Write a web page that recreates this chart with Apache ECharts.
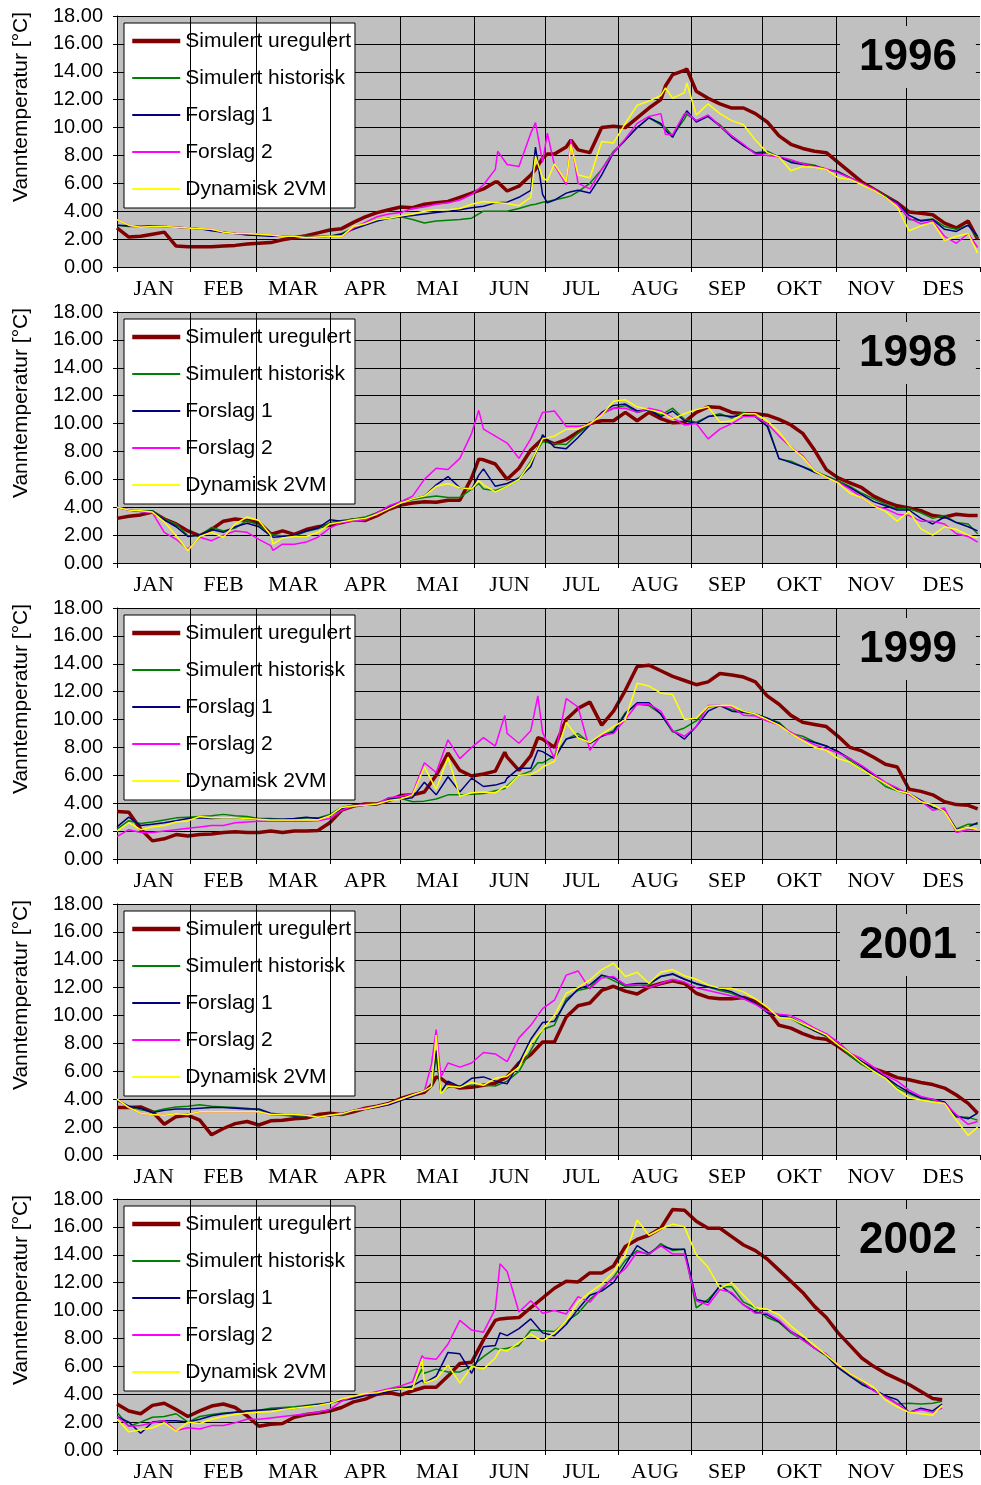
<!DOCTYPE html>
<html><head><meta charset="utf-8">
<script src="https://cdn.jsdelivr.net/npm/echarts@6/dist/echarts.min.js"></script>
<style>html,body{margin:0;padding:0;background:#fff}#c{width:981px;height:1485px}</style>
</head><body><div id="c"></div>
<script>
const SERIES_NAMES = ['Simulert uregulert','Simulert historisk','Forslag 1','Forslag 2','Dynamisk 2VM'];
const MONTHS = ['JAN','FEB','MAR','APR','MAI','JUN','JUL','AUG','SEP','OKT','NOV','DES'];
const MONTH_STARTS = [0,31,59,90,120,151,181,212,243,273,304,334,365];
const MONTH_MIDS = [15.5,45,74.5,105,135.5,166,196.5,227.5,258,288.5,319,349.5];
const Y_AXIS_NAME = 'Vanntemperatur [°C]';

// ---- 1996 ----
const DAYS_1996 = [0,5,10,15,20,25,30,35,40,45,50,55,60,65,70,75,80,85,90,95,100,105,110,115,120,125,130,135,140,145,150,155,160,161,165,170,175,177,180,182,185,190,192,195,200,205,210,215,220,225,230,232,235,240,241,245,250,255,260,265,270,275,280,285,290,295,300,305,310,315,320,325,330,335,340,345,350,355,360,364];
const UREG_1996 = [2.8,2.15,2.2,2.35,2.5,1.5,1.45,1.45,1.45,1.5,1.55,1.65,1.7,1.75,1.95,2.1,2.25,2.45,2.65,2.75,3.2,3.6,3.9,4.1,4.3,4.25,4.5,4.6,4.7,5.0,5.3,5.6,6.1,6.1,5.45,5.8,6.6,7.0,7.8,8.1,8.1,8.6,9.1,8.4,8.2,10.0,10.1,10.0,10.7,11.4,12.0,13.0,13.8,14.1,14.2,12.6,12.1,11.7,11.4,11.4,11.0,10.4,9.4,8.8,8.5,8.3,8.2,7.5,6.8,6.1,5.6,5.1,4.6,3.95,3.85,3.75,3.15,2.8,3.3,2.0];
const HIST_1996 = [3.0,2.9,2.9,2.9,2.9,2.85,2.8,2.75,2.65,2.5,2.4,2.35,2.3,2.25,2.25,2.2,2.2,2.2,2.2,2.4,2.8,3.1,3.4,3.5,3.6,3.4,3.15,3.3,3.35,3.4,3.5,4.0,4.0,4.0,4.0,4.2,4.45,4.5,4.65,4.7,4.8,5.0,5.1,5.4,6.0,7.0,8.3,9.1,10.0,10.7,10.2,10.0,9.4,10.6,10.95,10.5,10.8,10.2,9.4,8.7,8.2,8.3,7.9,7.6,7.45,7.3,7.0,6.85,6.4,6.0,5.6,5.1,4.6,3.4,3.35,3.45,2.9,2.7,3.0,2.1];
const F1_1996 = [3.0,2.95,2.9,2.95,2.9,2.85,2.8,2.75,2.6,2.5,2.4,2.3,2.25,2.2,2.2,2.15,2.1,2.15,2.2,2.35,2.7,3.0,3.3,3.5,3.6,3.7,3.8,3.9,4.0,4.1,4.25,4.35,4.6,4.6,4.65,5.0,5.5,8.6,5.2,4.6,4.8,5.3,5.4,5.5,5.3,6.6,8.2,9.1,10.0,10.7,10.3,9.8,9.3,10.9,11.2,10.4,10.8,10.1,9.3,8.7,8.15,8.2,7.9,7.5,7.35,7.25,7.0,6.8,6.4,6.0,5.55,5.05,4.6,3.7,3.3,3.4,2.7,2.55,3.0,2.2];
const F2_1996 = [3.4,3.0,2.85,2.9,2.9,2.85,2.8,2.75,2.7,2.5,2.4,2.4,2.35,2.3,2.2,2.2,2.1,2.15,2.2,2.2,2.8,3.2,3.6,3.8,3.9,4.2,4.3,4.5,4.6,4.8,5.2,5.9,7.0,8.3,7.35,7.2,9.6,10.35,7.5,9.6,7.3,5.9,9.15,6.0,5.6,7.0,8.2,9.2,10.3,10.8,11.0,9.5,9.5,11.0,11.05,10.5,10.9,10.1,9.4,8.8,8.1,8.0,7.9,7.7,7.4,7.2,7.05,6.75,6.4,6.0,5.6,5.0,4.5,3.5,3.1,3.3,2.2,1.7,2.4,1.4];
const DYN_1996 = [3.4,3.0,2.85,2.9,2.9,2.85,2.8,2.75,2.7,2.5,2.4,2.4,2.35,2.3,2.2,2.2,2.1,2.15,2.2,2.2,2.9,3.1,3.4,3.5,3.65,3.8,4.0,4.1,4.1,4.2,4.5,4.7,4.6,4.6,4.55,4.4,5.0,7.95,6.4,6.2,7.4,6.1,8.8,6.6,6.4,9.0,8.9,10.3,11.6,11.9,12.3,12.85,12.1,12.5,13.2,10.9,11.7,11.0,10.5,10.2,9.1,8.2,7.9,6.9,7.2,7.15,7.0,6.4,6.3,5.9,5.5,5.0,4.3,2.6,2.95,3.2,1.9,2.2,2.4,1.0];

// ---- 1998 ----
const DAYS_1998 = [0,5,10,15,20,25,30,35,40,45,50,55,60,65,66,70,75,80,85,90,95,100,105,110,115,120,125,130,135,140,145,150,153,155,160,165,170,175,180,185,190,195,200,205,210,215,220,225,230,235,240,245,250,255,260,265,270,275,280,285,290,295,300,305,310,315,320,325,330,335,340,345,350,355,360,364];
const UREG_1998 = [3.2,3.35,3.45,3.65,3.15,2.8,2.3,1.95,2.4,3.0,3.15,3.05,2.9,2.1,2.1,2.3,2.05,2.4,2.6,2.7,2.9,3.1,3.05,3.4,3.85,4.15,4.3,4.4,4.35,4.5,4.5,6.1,7.45,7.4,7.1,6.0,6.8,8.1,8.9,8.55,8.85,9.4,10.0,10.2,10.2,10.8,10.2,10.8,10.35,10.05,10.1,10.8,11.2,11.15,10.8,10.7,10.7,10.6,10.3,9.9,9.3,8.1,6.7,6.1,5.75,5.4,4.8,4.4,4.1,3.95,3.75,3.4,3.3,3.5,3.4,3.4];
const HIST_1998 = [4.0,3.8,3.75,3.75,3.15,2.8,1.95,1.95,2.55,2.3,2.5,3.05,2.7,2.1,2.0,1.95,1.95,2.25,2.45,2.9,3.05,3.15,3.3,3.6,3.95,4.35,4.55,4.7,4.8,4.7,4.7,5.3,5.7,5.3,5.2,5.5,6.0,7.3,8.7,8.55,8.5,9.3,9.9,10.7,11.1,11.3,10.8,11.0,10.6,11.1,10.3,10.1,10.5,10.7,10.4,10.8,10.5,10.0,7.45,7.3,6.9,6.6,6.25,5.9,5.5,5.0,4.6,4.2,3.9,3.9,3.6,3.2,3.4,2.9,2.8,2.1];
const F1_1998 = [4.0,3.8,3.7,3.7,3.1,2.6,1.9,2.0,2.4,2.2,2.6,2.85,2.6,1.95,1.85,1.9,2.0,2.3,2.5,3.1,3.0,3.05,3.15,3.6,4.0,4.4,4.6,4.8,5.6,6.2,5.4,5.3,6.3,6.75,5.5,5.7,6.1,6.9,9.2,8.3,8.2,9.0,9.9,10.8,11.3,11.4,10.9,11.0,10.5,10.9,10.2,10.0,10.5,10.6,10.5,10.6,10.5,9.8,7.5,7.2,6.9,6.5,6.2,5.8,5.4,4.9,4.4,4.1,3.8,3.8,3.2,2.8,3.3,2.9,2.6,2.3];
const F2_1998 = [4.0,3.8,3.7,3.6,2.2,1.7,1.0,1.85,1.6,2.0,2.3,2.2,1.7,1.25,0.9,1.35,1.35,1.5,1.85,2.5,2.9,3.0,3.1,3.6,4.1,4.4,4.8,6.0,6.8,6.7,7.5,9.3,10.95,9.6,9.1,8.6,7.5,8.9,10.8,10.9,9.8,9.8,9.9,10.7,11.1,11.1,10.8,11.1,10.9,10.4,9.9,10.0,8.9,9.6,10.0,10.5,10.5,10.0,9.1,8.3,7.7,6.6,6.15,5.8,5.3,4.7,4.1,3.9,3.5,3.4,3.0,3.0,2.8,2.1,1.9,1.5];
const DYN_1998 = [4.0,3.8,3.75,3.65,2.95,1.95,0.9,1.9,2.2,1.85,2.8,3.3,3.05,2.0,1.35,1.8,1.9,1.9,2.2,2.8,2.95,3.1,3.2,3.5,3.9,4.3,4.6,4.8,5.5,5.7,5.4,5.3,5.9,5.6,5.1,5.5,6.0,7.2,8.9,9.1,9.6,9.6,10.0,10.6,11.6,11.7,11.2,11.0,10.8,10.35,10.7,11.0,11.2,10.1,10.2,10.7,10.7,10.2,9.4,8.3,7.6,6.6,6.15,5.75,5.0,4.7,4.1,3.7,3.0,3.7,2.45,2.0,2.6,2.4,2.0,1.8];

// ---- 1999 ----
const DAYS_1999 = [0,5,10,15,20,25,30,35,40,45,50,55,60,65,70,75,80,85,90,95,100,105,110,115,120,125,130,135,140,145,150,155,160,164,165,170,175,178,180,185,190,195,200,205,210,215,220,225,230,235,240,245,250,255,260,265,270,275,280,285,290,295,300,305,310,315,320,325,330,335,340,345,350,355,360,364];
const UREG_1999 = [3.4,3.35,2.15,1.3,1.45,1.75,1.65,1.75,1.8,1.9,1.95,1.9,1.9,2.0,1.9,2.0,2.0,2.05,2.6,3.5,3.8,3.95,3.95,4.2,4.55,4.6,4.8,6.0,7.6,6.35,5.95,6.1,6.3,7.65,7.3,6.35,7.4,8.7,8.6,8.0,10.0,10.8,11.25,9.6,10.6,12.1,13.8,13.9,13.5,13.1,12.8,12.5,12.7,13.3,13.2,13.05,12.7,11.7,11.1,10.3,9.8,9.65,9.5,8.8,8.0,7.75,7.3,6.8,6.6,5.0,4.85,4.6,4.1,3.9,3.85,3.6];
const HIST_1999 = [2.15,2.75,2.55,2.65,2.8,2.95,3.0,3.05,3.1,3.2,3.1,3.05,2.9,2.9,2.85,2.85,2.95,2.95,3.2,3.7,3.85,3.85,3.95,4.4,4.35,4.1,4.15,4.3,4.6,4.6,4.65,4.7,4.9,5.05,5.25,6.0,6.3,6.9,6.9,7.4,8.6,9.0,8.3,8.85,9.2,10.5,11.1,11.0,10.4,9.1,9.4,9.9,10.9,11.0,10.7,10.6,10.4,10.1,9.8,9.0,8.8,8.4,8.1,7.7,7.05,6.4,5.9,5.2,4.9,4.65,4.1,3.7,3.5,2.15,2.5,2.5];
const F1_1999 = [2.3,3.0,2.4,2.5,2.6,2.75,2.9,2.95,2.9,2.95,2.95,2.9,2.85,2.85,2.85,2.9,3.0,2.9,3.1,3.6,3.8,3.85,3.9,4.3,4.3,4.4,5.5,4.6,5.9,4.8,5.8,5.2,5.3,5.5,5.8,6.5,6.5,7.8,7.7,7.2,8.6,8.8,8.3,8.8,9.1,10.4,11.2,11.2,10.4,9.2,8.6,9.5,10.6,11.0,10.6,10.5,10.4,10.1,9.7,9.0,8.6,8.35,8.1,7.7,7.2,6.6,6.0,5.4,5.0,4.7,4.2,3.7,3.45,2.1,2.3,2.6];
const F2_1999 = [1.6,2.1,1.9,1.9,2.0,2.1,2.2,2.3,2.4,2.4,2.6,2.65,2.7,2.7,2.7,2.7,2.7,2.75,2.9,3.5,3.8,3.9,3.95,4.4,4.5,4.7,6.9,6.2,8.55,7.2,8.0,8.7,8.1,10.3,9.0,8.3,9.2,11.7,9.1,7.2,11.5,10.9,7.8,8.9,9.0,10.0,11.1,11.1,10.6,9.2,8.8,9.5,11.0,11.0,10.9,10.3,10.25,9.9,9.6,9.1,8.6,8.2,7.9,7.6,7.2,6.7,6.1,5.5,5.1,4.6,4.15,3.5,3.65,1.9,2.1,2.1];
const DYN_1999 = [2.0,2.6,2.1,2.3,2.4,2.65,2.75,3.05,2.95,2.95,2.95,2.9,2.85,2.8,2.8,2.8,2.8,2.8,3.1,3.7,3.8,3.85,3.95,4.2,4.3,4.6,6.6,5.0,7.3,4.5,4.75,4.8,4.75,5.2,5.15,6.0,6.05,6.3,6.6,7.0,9.8,8.7,8.35,8.95,9.5,10.0,12.6,12.4,11.9,11.8,10.0,10.1,10.95,11.0,11.0,10.6,10.4,10.0,9.6,9.0,8.5,8.0,7.8,7.2,6.95,6.4,5.9,5.4,4.9,4.7,4.1,3.9,3.4,2.05,2.3,2.1];

// ---- 2001 ----
const DAYS_2001 = [0,5,10,15,20,25,30,35,40,45,50,55,60,65,70,75,80,85,90,95,100,105,110,115,120,125,130,133,135,137,140,145,150,155,160,165,170,175,180,185,190,195,200,205,210,215,220,225,230,235,240,245,250,255,260,265,270,275,280,285,290,295,300,305,310,315,320,325,330,335,340,345,350,355,360,364];
const UREG_2001 = [3.4,3.4,3.45,3.1,2.2,2.75,2.85,2.5,1.45,1.9,2.25,2.4,2.15,2.45,2.5,2.6,2.65,2.9,3.0,2.9,3.1,3.35,3.5,3.7,4.05,4.3,4.5,5.0,5.6,5.5,5.1,4.8,4.85,5.0,5.15,5.6,6.6,7.2,8.1,8.1,9.9,10.7,10.9,11.8,12.1,11.75,11.55,12.05,12.3,12.5,12.3,11.6,11.3,11.2,11.2,11.3,11.0,10.4,9.3,9.1,8.7,8.4,8.3,7.8,7.2,6.6,6.2,5.9,5.55,5.4,5.2,5.05,4.8,4.3,3.7,3.0];
const HIST_2001 = [3.95,3.5,3.25,3.1,3.3,3.45,3.5,3.6,3.5,3.45,3.4,3.35,3.25,2.9,2.85,2.8,2.8,2.8,2.85,2.85,3.2,3.35,3.5,3.7,4.0,4.3,4.6,4.9,7.0,4.5,4.85,4.95,5.0,5.0,4.95,5.3,6.0,7.5,9.0,9.3,11.2,11.8,12.0,12.9,12.5,12.1,12.15,12.2,12.8,12.95,12.6,12.25,12.05,11.8,11.6,11.2,10.9,10.3,10.0,9.8,9.3,8.9,8.5,8.0,7.1,6.5,6.0,5.6,4.8,4.4,4.05,3.9,3.75,2.7,2.7,2.5];
const F1_2001 = [3.9,3.5,3.35,3.05,3.2,3.3,3.3,3.35,3.4,3.4,3.35,3.3,3.3,3.0,2.9,2.8,2.85,2.75,2.8,2.95,3.2,3.3,3.45,3.6,3.9,4.2,4.6,4.9,7.5,4.5,5.3,4.9,5.5,5.6,5.3,5.1,6.6,8.3,9.5,9.6,11.0,11.9,12.2,12.9,12.7,12.2,12.3,12.3,12.8,13.0,12.6,12.3,12.05,11.9,11.7,11.3,10.9,10.2,10.0,9.85,9.4,8.9,8.55,8.1,7.3,6.7,6.15,5.6,5.0,4.5,4.1,4.0,3.8,2.8,2.6,3.0];
const F2_2001 = [4.0,3.4,3.0,2.9,2.85,2.95,2.9,3.1,3.1,3.1,3.1,3.1,3.1,2.9,2.9,2.9,2.85,2.7,2.85,2.95,3.2,3.35,3.5,3.7,4.0,4.3,4.6,6.5,9.0,5.6,6.6,6.3,6.6,7.35,7.25,6.7,8.4,9.3,10.5,11.1,12.9,13.2,11.9,12.7,12.8,12.2,12.2,12.0,12.3,12.6,12.4,12.0,11.8,11.6,11.4,11.2,10.8,10.3,10.1,10.0,9.6,9.1,8.7,8.1,7.3,6.9,6.3,5.7,5.3,4.65,4.2,4.0,3.7,2.9,2.2,2.4];
const DYN_2001 = [4.0,3.4,3.0,2.9,2.85,2.95,2.9,3.1,3.1,3.1,3.1,3.1,3.1,2.9,2.9,2.9,2.85,2.7,2.85,2.95,3.2,3.3,3.5,3.7,4.0,4.3,4.6,4.9,8.6,4.4,4.95,4.85,5.2,5.0,5.5,5.65,6.3,8.0,9.0,10.0,11.6,12.0,12.55,13.3,13.75,12.8,13.1,12.3,13.1,13.3,12.85,12.6,12.2,11.95,11.95,11.7,11.2,10.6,9.85,9.8,9.4,9.0,8.6,7.9,7.3,6.6,6.0,5.5,4.7,4.1,3.95,3.8,3.7,2.5,1.4,2.0];

// ---- 2002 ----
const DAYS_2002 = [0,5,10,15,20,25,30,35,40,45,50,55,60,65,70,75,80,85,90,95,100,105,110,115,120,125,129,130,135,140,145,150,155,160,162,165,170,175,180,185,190,195,200,205,210,215,220,225,230,235,240,245,250,255,260,265,270,275,280,285,290,295,300,305,310,315,320,325,330,335,340,345,349];
const UREG_2002 = [3.3,2.8,2.6,3.2,3.35,2.9,2.4,2.8,3.15,3.3,3.05,2.45,1.7,1.85,1.9,2.35,2.55,2.65,2.8,3.05,3.45,3.65,4.0,4.1,3.95,4.25,4.45,4.5,4.5,5.3,6.2,6.3,7.9,9.3,9.4,9.45,9.5,10.2,10.9,11.6,12.1,12.05,12.7,12.7,13.2,14.6,15.1,15.4,15.9,17.25,17.2,16.4,15.9,15.9,15.3,14.7,14.3,13.7,12.9,12.1,11.3,10.3,9.5,8.4,7.5,6.6,6.0,5.5,5.1,4.7,4.2,3.7,3.6];
const HIST_2002 = [2.7,1.7,2.0,2.35,2.4,2.6,2.0,2.4,2.55,2.65,2.7,2.8,2.85,3.0,3.05,3.1,3.2,3.3,3.35,3.6,3.75,3.95,4.1,4.35,4.5,4.5,5.8,5.5,5.8,5.6,5.6,6.0,6.7,7.3,7.2,7.3,7.5,8.6,8.55,8.5,9.2,9.8,10.8,11.5,12.4,13.6,14.3,14.0,14.8,14.3,14.4,10.2,10.8,11.7,11.7,10.6,10.2,9.5,9.15,8.4,7.9,7.3,6.75,5.9,5.3,4.8,4.3,3.9,3.3,3.35,3.3,3.35,3.5];
const F1_2002 = [2.4,2.0,1.2,2.0,2.1,2.1,2.0,2.2,2.45,2.6,2.7,2.8,2.85,2.9,2.95,3.0,3.15,3.25,3.4,3.55,3.7,3.9,4.0,4.2,4.35,4.6,5.0,4.8,5.3,7.0,6.9,5.5,7.4,7.5,8.4,8.2,8.7,9.4,8.4,8.2,9.0,10.1,11.1,11.4,12.0,13.3,14.65,14.1,14.65,14.4,14.4,10.8,10.6,11.8,11.2,10.4,9.9,9.7,9.2,8.5,8.0,7.3,6.8,5.9,5.3,4.7,4.3,3.9,3.6,2.7,3.0,2.8,3.3];
const F2_2002 = [2.4,1.7,1.75,1.95,2.1,1.4,1.6,1.5,1.75,1.75,1.95,2.2,2.2,2.3,2.4,2.5,2.6,2.7,2.9,3.5,3.85,4.0,4.2,4.4,4.6,4.9,6.75,6.6,6.5,7.6,9.3,8.6,8.45,10.1,13.35,12.8,9.9,10.7,9.8,10.0,9.75,11.0,10.6,11.6,12.3,13.0,14.2,14.05,14.65,14.05,14.05,10.7,10.4,11.5,11.3,10.4,9.8,9.8,9.3,8.5,7.9,7.3,6.9,6.05,5.5,4.95,4.25,3.8,3.3,2.7,2.9,2.7,3.0];
const DYN_2002 = [2.2,1.3,1.45,1.6,1.95,1.35,2.0,1.9,2.2,2.4,2.55,2.65,2.7,2.75,2.9,3.0,3.1,3.2,3.35,3.65,3.85,4.05,4.1,4.3,4.4,4.35,6.5,4.8,5.1,6.1,4.8,6.0,5.8,6.6,7.2,7.1,7.7,8.3,7.8,8.4,9.25,10.6,11.3,11.9,12.75,14.0,16.5,15.4,15.85,16.2,16.0,14.0,13.1,11.6,12.0,11.1,10.2,10.1,9.7,8.9,8.2,7.5,6.8,6.1,5.5,5.0,4.5,3.6,3.1,2.7,2.6,2.5,3.2];

const PANELS = [
  {year:'1996', days:DAYS_1996, vals:[UREG_1996,HIST_1996,F1_1996,F2_1996,DYN_1996]},
  {year:'1998', days:DAYS_1998, vals:[UREG_1998,HIST_1998,F1_1998,F2_1998,DYN_1998]},
  {year:'1999', days:DAYS_1999, vals:[UREG_1999,HIST_1999,F1_1999,F2_1999,DYN_1999]},
  {year:'2001', days:DAYS_2001, vals:[UREG_2001,HIST_2001,F1_2001,F2_2001,DYN_2001]},
  {year:'2002', days:DAYS_2002, vals:[UREG_2002,HIST_2002,F1_2002,F2_2002,DYN_2002]}
];
const GRID_TOPS = [16, 312, 608, 904, 1199];
const COLORS = ['#800000','#008000','#000080','#ff00ff','#ffff00'];
const WIDTHS = [3.5,1.5,1.5,1.5,1.5];
const LEGEND_WIDTHS = [4.5,2,2,2,2];
const SANS = '"Liberation Sans", Arial, sans-serif';
const SERIF = '"Liberation Serif", "Times New Roman", serif';

const option = {animation:false, grid:[], xAxis:[], yAxis:[], series:[], legend:[], title:[], graphic:[]};
PANELS.forEach((p, i) => {
  const top = GRID_TOPS[i];
  option.grid.push({left:117, width:863, top:top, height:251, show:true, backgroundColor:'#c0c0c0', borderWidth:0});
  option.xAxis.push({
    gridIndex:i, type:'value', min:0, max:365,
    splitLine:{show:false},
    axisLine:{show:true, onZero:false, lineStyle:{color:'#000', width:1}},
    axisTick:{show:true, customValues:MONTH_STARTS, length:5, lineStyle:{color:'#000'}},
    axisLabel:{customValues:MONTH_MIDS, formatter:v => { const k = MONTH_MIDS.indexOf(v); return k >= 0 ? MONTHS[k] : ''; },
      fontFamily:SERIF, fontSize:22, color:'#000', margin:11}
  });
  option.yAxis.push({
    gridIndex:i, type:'value', min:0, max:18, interval:2,
    axisLine:{show:true, lineStyle:{color:'#000', width:1}},
    axisTick:{show:true, length:4, lineStyle:{color:'#000'}},
    splitLine:{show:true, lineStyle:{color:'#000', width:1}},
    axisLabel:{formatter:v => v.toFixed(2), fontFamily:SANS, fontSize:20, color:'#000', margin:14}
  });
  // month grid lines
  option.series.push({
    type:'line', xAxisIndex:i, yAxisIndex:i, data:[], silent:true, z:1,
    markLine:{silent:true, symbol:['none','none'], label:{show:false},
      lineStyle:{color:'#000', width:1, type:'solid'},
      emphasis:{disabled:true},
      data: MONTH_STARTS.slice(1, 12).map(d => ({xAxis:d}))}
  });
  p.vals.forEach((arr, k) => {
    option.series.push({
      name:SERIES_NAMES[k], type:'line', xAxisIndex:i, yAxisIndex:i,
      data:p.days.map((d, j) => [d, arr[j]]),
      symbol:'none', showSymbol:false, silent:true, z:2 + k,
      lineStyle:{color:COLORS[k], width:WIDTHS[k]},
      itemStyle:{color:COLORS[k]}
    });
  });
  option.legend.push({
    top:top + 7, left:124, orient:'vertical',
    data:SERIES_NAMES.map((n, k) => ({name:n, lineStyle:{width:LEGEND_WIDTHS[k], color:COLORS[k]}})),
    selectedMode:false,
    itemWidth:48, itemHeight:14, itemGap:15, padding:[7,4,8,6],
    backgroundColor:'#fff', borderColor:'#000', borderWidth:1,
    itemStyle:{opacity:0, borderWidth:0},
    textStyle:{fontFamily:SANS, fontSize:21, color:'#000', lineHeight:22}
  });
  option.title.push({
    text:p.year, left:840, top:top + 10, backgroundColor:'#c0c0c0', padding:[10,19,8,19],
    textStyle:{fontFamily:SANS, fontSize:44, fontWeight:'bold', color:'#000', lineHeight:44}
  });
  option.graphic.push({
    type:'text', x:21, y:top + 91, rotation:Math.PI / 2, silent:true,
    style:{text:Y_AXIS_NAME, fontFamily:SANS, fontSize:21, fill:'#000', align:'center', verticalAlign:'middle'}
  });
});

const chart = echarts.init(document.getElementById('c'), null, {renderer:'canvas'});
chart.setOption(option);
</script>
</body></html>
